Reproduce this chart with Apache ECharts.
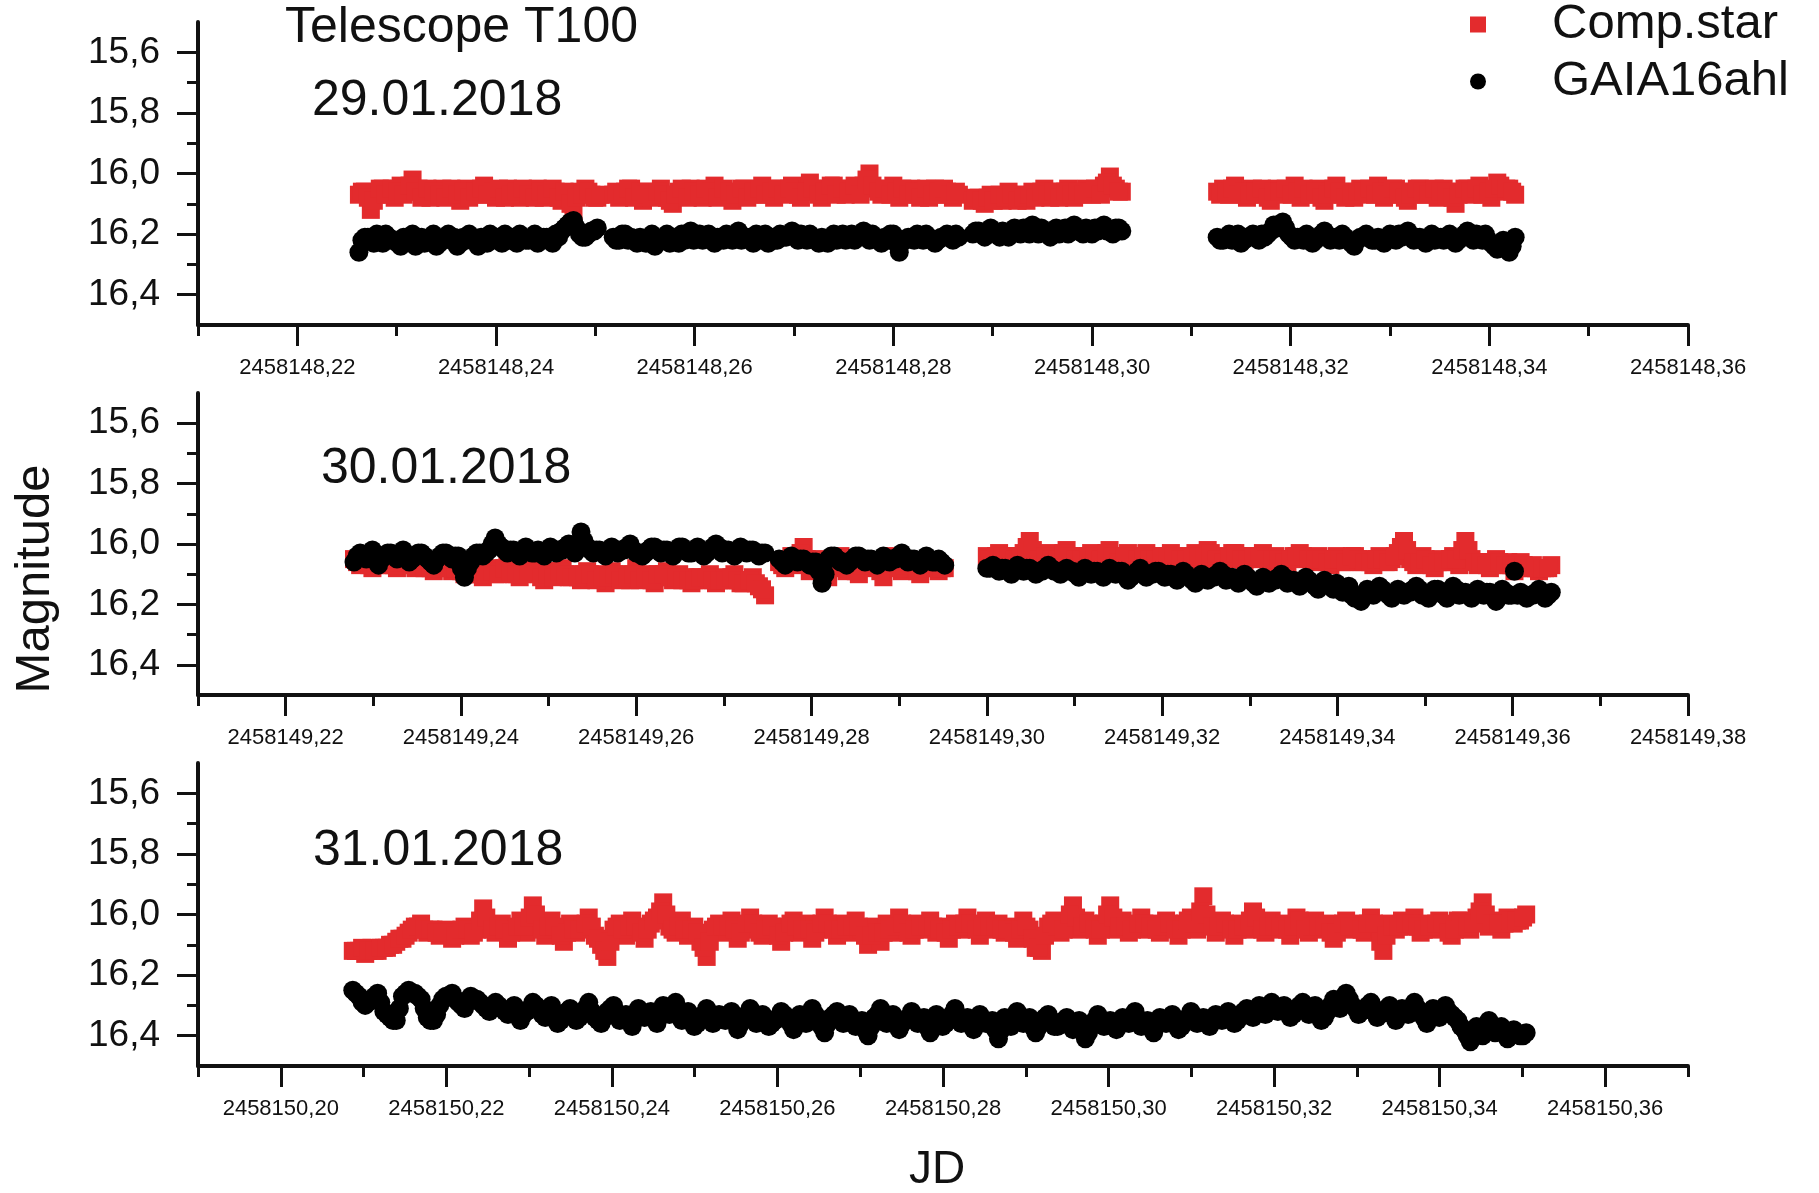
<!DOCTYPE html>
<html><head><meta charset="utf-8">
<script src="https://cdn.jsdelivr.net/npm/echarts@6/dist/echarts.min.js"></script>
<style>html,body{margin:0;padding:0;background:#fff}#c{width:1819px;height:1193px}</style>
</head><body><div id="c"></div>
<script>
// ---------- DATA ----------
const seriesNames = ['Comp.star', 'GAIA16ahl'];
const nightLabels = ['29.01.2018', '30.01.2018', '31.01.2018'];

// observation segments: [start JD, cadence in days]; "...2" arrays are the readings half a cadence later
const p1Segs = [[2458148.2262, 0.0006], [2458148.2518, 0.0006], [2458148.2880, 0.0006], [2458148.3126, 0.0006]];
const p2Segs = [[2458149.2278, 0.0007], [2458149.2763, 0.0007], [2458149.3000, 0.0007]];
const p3Segs = [[2458150.2087, 0.00075]];

// Panel 1 (29.01.2018)
const p1CompA = [16.07,16.06,16.12,16.07,16.05,16.06,16.08,16.04,16.06,16.02,16.05,16.07,16.08,16.06,16.05,16.07,16.06,16.09,16.05,16.07,16.06,16.04,16.07,16.08,16.06,16.05,16.07,16.08,16.06,16.07,16.05,16.08,16.07,16.06,16.09,16.07,16.125,16.06,16.05,16.07,16.08];
const p1CompA2 = [16.06,16.08,16.09,16.05,16.07,16.05,16.06,16.07,16.04,16.06,16.08,16.05,16.06,16.07,16.08,16.05,16.07,16.06,16.08,16.06,16.05,16.07,16.06,16.05,16.08,16.07,16.06,16.05,16.07,16.08,16.06,16.07,16.05,16.08,16.06,16.10,16.08,16.07,16.06,16.08,16.07];
const p1GaiaA = [16.26,16.21,16.22,16.20,16.23,16.21,16.22,16.24,16.21,16.20,16.22,16.23,16.21,16.24,16.22,16.20,16.21,16.23,16.22,16.21,16.24,16.22,16.20,16.21,16.23,16.22,16.21,16.20,16.22,16.21,16.23,16.21,16.22,16.20,16.19,16.17,16.155,16.20,16.21,16.19,16.18];
const p1GaiaA2 = [16.22,16.21,16.23,16.22,16.20,16.22,16.23,16.21,16.22,16.24,16.21,16.22,16.20,16.23,16.21,16.22,16.24,16.21,16.20,16.22,16.21,16.23,16.22,16.21,16.20,16.22,16.23,16.21,16.22,16.20,16.22,16.21,16.23,16.21,16.18,16.16,16.18,16.21,16.20,16.19];
const p1CompB = [16.07,16.08,16.06,16.05,16.07,16.09,16.06,16.07,16.05,16.08,16.10,16.06,16.07,16.05,16.06,16.08,16.07,16.04,16.06,16.07,16.09,16.06,16.05,16.07,16.06,16.04,16.07,16.08,16.05,16.06,16.04,16.07,16.05,16.03,16.06,16.08,16.05,16.04,16.06,16.07,16.05,16.06,16.04,16.00,16.05,16.07,16.06,16.04,16.08,16.06,16.05,16.07,16.06,16.08,16.05,16.07,16.06,16.08,16.07];
const p1CompB2 = [16.06,16.07,16.05,16.08,16.06,16.07,16.08,16.06,16.07,16.09,16.07,16.05,16.08,16.06,16.07,16.05,16.06,16.08,16.05,16.06,16.07,16.05,16.08,16.06,16.05,16.07,16.06,16.05,16.07,16.05,16.06,16.08,16.06,16.05,16.07,16.06,16.04,16.07,16.05,16.06,16.04,16.07,16.02,16.04,16.06,16.05,16.07,16.06,16.05,16.07,16.06,16.08,16.05,16.07,16.06,16.05,16.07,16.06];
const p1GaiaB = [16.21,16.22,16.20,16.21,16.23,16.22,16.21,16.24,16.22,16.20,16.21,16.23,16.22,16.19,16.21,16.22,16.20,16.23,16.21,16.20,16.22,16.19,16.21,16.22,16.20,16.21,16.23,16.22,16.20,16.21,16.19,16.22,16.21,16.20,16.22,16.21,16.23,16.20,16.21,16.22,16.20,16.21,16.19,16.22,16.21,16.23,16.22,16.20,16.26,16.22,16.21,16.20,16.22,16.21,16.23,16.21,16.20,16.22,16.21];
const p1GaiaB2 = [16.22,16.20,16.22,16.22,16.21,16.23,16.20,16.22,16.21,16.23,16.22,16.20,16.21,16.22,16.20,16.21,16.22,16.21,16.22,16.21,16.20,16.22,16.21,16.23,16.22,16.20,16.21,16.22,16.21,16.20,16.21,16.20,16.22,16.21,16.23,16.22,16.21,16.22,16.20,16.21,16.22,16.20,16.21,16.20,16.22,16.21,16.20,16.23,16.22,16.21,16.22,16.21,16.20,16.22,16.22,16.21,16.21,16.20];
const p1CompC = [16.09,16.08,16.10,16.07,16.08,16.09,16.06,16.08,16.07,16.09,16.06,16.07,16.05,16.08,16.06,16.07,16.05,16.08,16.06,16.05,16.07,16.06,16.04,16.01,16.05,16.06];
const p1CompC2 = [16.08,16.09,16.08,16.09,16.07,16.08,16.07,16.09,16.08,16.07,16.08,16.06,16.07,16.06,16.08,16.06,16.07,16.06,16.07,16.06,16.05,16.07,16.03,16.04,16.06];
const p1GaiaC = [16.20,16.19,16.21,16.18,16.20,16.19,16.21,16.18,16.20,16.19,16.17,16.20,16.19,16.21,16.18,16.19,16.20,16.17,16.19,16.18,16.20,16.19,16.17,16.19,16.18,16.19];
const p1GaiaC2 = [16.19,16.20,16.19,16.19,16.21,16.20,16.19,16.19,16.18,16.20,16.19,16.18,16.20,16.19,16.20,16.18,16.18,16.19,16.20,16.19,16.18,16.18,16.19,16.20,16.18];
const p1CompD = [16.06,16.05,16.07,16.04,16.06,16.08,16.05,16.07,16.06,16.09,16.05,16.07,16.06,16.04,16.08,16.06,16.07,16.05,16.09,16.06,16.04,16.07,16.06,16.08,16.05,16.07,16.06,16.04,16.08,16.06,16.05,16.07,16.09,16.06,16.05,16.07,16.06,16.08,16.05,16.07,16.10,16.06,16.05,16.07,16.04,16.06,16.08,16.03,16.06,16.05,16.07];
const p1CompD2 = [16.07,16.06,16.05,16.07,16.06,16.07,16.06,16.05,16.08,16.06,16.06,16.05,16.07,16.06,16.05,16.07,16.06,16.08,16.07,16.05,16.06,16.08,16.07,16.06,16.06,16.05,16.07,16.06,16.07,16.05,16.06,16.08,16.07,16.05,16.06,16.07,16.05,16.06,16.06,16.08,16.07,16.05,16.06,16.05,16.07,16.06,16.05,16.04,16.05,16.06];
const p1GaiaD = [16.21,16.22,16.20,16.21,16.23,16.21,16.20,16.22,16.21,16.19,16.18,16.16,16.20,16.22,16.21,16.20,16.23,16.21,16.19,16.22,16.21,16.20,16.22,16.24,16.21,16.20,16.22,16.21,16.23,16.20,16.22,16.21,16.19,16.22,16.21,16.23,16.20,16.21,16.22,16.20,16.23,16.21,16.19,16.22,16.21,16.20,16.23,16.25,16.22,16.26,16.21];
const p1GaiaD2 = [16.22,16.21,16.22,16.20,16.22,16.21,16.21,16.20,16.20,16.17,16.17,16.18,16.21,16.21,16.22,16.21,16.22,16.20,16.21,16.21,16.22,16.21,16.23,16.22,16.21,16.21,16.22,16.22,16.21,16.21,16.20,16.20,16.21,16.21,16.22,16.21,16.22,16.21,16.21,16.22,16.22,16.20,16.21,16.20,16.22,16.22,16.24,16.24,16.23,16.24];

// Panel 2 (30.01.2018)
const p2CompA = [16.05,16.07,16.06,16.08,16.05,16.07,16.06,16.08,16.07,16.05,16.08,16.06,16.07,16.09,16.06,16.08,16.09,16.07,16.10,16.08,16.09,16.11,16.08,16.10,16.09,16.07,16.10,16.11,16.09,16.08,16.10,16.12,16.09,16.10,16.08,16.11,16.10,16.12,16.09,16.11,16.10,16.13,16.09,16.11,16.10,16.12,16.08,16.11,16.10,16.13,16.11,16.09,16.12,16.10,16.11,16.13,16.11,16.12,16.10,16.13,16.11,16.12,16.10,16.13,16.12,16.11,16.14,16.17];
const p2CompA2 = [16.06,16.06,16.07,16.06,16.06,16.07,16.07,16.06,16.06,16.07,16.07,16.08,16.08,16.07,16.07,16.08,16.08,16.09,16.09,16.10,16.10,16.09,16.09,16.10,16.08,16.09,16.10,16.10,16.09,16.09,16.11,16.10,16.11,16.09,16.10,16.11,16.11,16.10,16.10,16.12,16.11,16.11,16.10,16.12,16.11,16.10,16.12,16.11,16.12,16.10,16.10,16.11,16.11,16.12,16.12,16.12,16.11,16.11,16.12,16.12,16.12,16.11,16.12,16.13,16.12,16.13,16.15];
const p2GaiaA = [16.06,16.03,16.05,16.02,16.07,16.04,16.03,16.05,16.02,16.06,16.04,16.03,16.05,16.07,16.04,16.03,16.05,16.04,16.11,16.06,16.03,16.04,16.02,15.98,16.01,16.03,16.02,16.04,16.01,16.03,16.02,16.04,16.01,16.03,16.02,16.00,16.03,15.96,16.01,16.03,16.02,16.04,16.01,16.03,16.02,16.00,16.03,16.04,16.02,16.01,16.03,16.02,16.04,16.01,16.02,16.03,16.01,16.04,16.02,16.00,16.03,16.02,16.04,16.01,16.03,16.02,16.04,16.03];
const p2GaiaA2 = [16.04,16.04,16.03,16.05,16.05,16.03,16.04,16.03,16.04,16.05,16.03,16.04,16.06,16.05,16.03,16.04,16.04,16.08,16.08,16.04,16.03,16.03,16.00,16.00,16.02,16.02,16.03,16.02,16.02,16.03,16.03,16.02,16.02,16.02,16.01,16.02,16.00,15.99,16.02,16.02,16.03,16.02,16.02,16.02,16.01,16.02,16.03,16.03,16.01,16.02,16.02,16.03,16.02,16.01,16.03,16.02,16.02,16.03,16.01,16.01,16.02,16.03,16.02,16.02,16.02,16.03,16.03];
const p2CompB = [16.06,16.08,16.04,16.07,16.01,16.09,16.05,16.08,16.11,16.06,16.04,16.09,16.07,16.10,16.05,16.08,16.06,16.11,16.04,16.07,16.09,16.05,16.08,16.10,16.06,16.07,16.09,16.08];
const p2CompB2 = [16.07,16.06,16.05,16.03,16.05,16.07,16.06,16.10,16.08,16.05,16.07,16.08,16.09,16.07,16.06,16.07,16.09,16.07,16.05,16.08,16.07,16.06,16.09,16.08,16.06,16.08,16.08];
const p2GaiaB = [16.05,16.07,16.04,16.06,16.05,16.07,16.06,16.13,16.05,16.04,16.06,16.07,16.05,16.04,16.06,16.05,16.07,16.04,16.06,16.05,16.03,16.06,16.05,16.07,16.04,16.06,16.05,16.07];
const p2GaiaB2 = [16.06,16.05,16.05,16.05,16.06,16.06,16.09,16.10,16.04,16.05,16.06,16.06,16.04,16.05,16.05,16.06,16.05,16.05,16.05,16.04,16.05,16.05,16.06,16.05,16.05,16.06,16.06];
const p2CompC = [16.04,16.05,16.03,16.05,16.04,16.06,16.03,15.99,16.04,16.05,16.03,16.06,16.04,16.02,16.05,16.04,16.06,16.03,16.05,16.04,16.02,16.05,16.06,16.03,16.04,16.05,16.03,16.06,16.04,16.05,
  16.03,16.05,16.04,16.06,16.03,16.05,16.02,16.04,16.06,16.05,16.03,16.04,16.06,16.04,16.05,16.03,16.06,16.04,16.05,16.07,16.04,16.03,16.05,16.06,16.04,16.05,16.07,16.04,16.06,16.05,
  16.04,16.06,16.05,16.07,16.04,16.06,16.05,16.03,15.99,16.05,16.07,16.04,16.06,16.08,16.05,16.06,16.04,16.07,15.99,16.05,16.07,16.06,16.08,16.05,16.07,16.06,16.09,16.06,16.08,16.07,16.09,16.08,16.07];
const p2CompC2 = [16.05,16.04,16.04,16.04,16.05,16.04,16.01,16.02,16.05,16.04,16.05,16.05,16.03,16.04,16.05,16.05,16.04,16.04,16.05,16.03,16.04,16.06,16.04,16.04,16.05,16.04,16.05,16.05,16.04,16.04,
  16.04,16.05,16.05,16.04,16.04,16.04,16.03,16.05,16.06,16.04,16.03,16.05,16.05,16.04,16.04,16.05,16.05,16.05,16.06,16.05,16.04,16.04,16.05,16.05,16.05,16.06,16.05,16.05,16.06,16.04,
  16.05,16.06,16.06,16.05,16.05,16.06,16.04,16.01,16.02,16.06,16.06,16.05,16.07,16.06,16.06,16.05,16.05,16.02,16.02,16.06,16.06,16.07,16.06,16.06,16.07,16.07,16.07,16.07,16.08,16.08,16.08,16.08];
const p2GaiaC = [16.08,16.07,16.09,16.08,16.10,16.07,16.09,16.08,16.10,16.09,16.07,16.09,16.10,16.08,16.09,16.11,16.08,16.10,16.09,16.11,16.08,16.10,16.09,16.12,16.10,16.08,16.11,16.10,16.09,16.11,
  16.10,16.12,16.09,16.11,16.13,16.10,16.12,16.11,16.09,16.12,16.11,16.13,16.10,16.12,16.14,16.11,16.13,16.12,16.10,16.13,16.12,16.14,16.11,16.13,16.15,16.12,16.14,16.13,16.16,16.14,
  16.18,16.19,16.15,16.17,16.14,16.16,16.18,16.15,16.17,16.16,16.14,16.17,16.18,16.15,16.16,16.18,16.14,16.17,16.16,16.18,16.15,16.17,16.16,16.19,16.15,16.17,16.09,16.16,16.18,16.17,16.15,16.18,16.16];
const p2GaiaC2 = [16.08,16.08,16.08,16.09,16.08,16.08,16.08,16.09,16.09,16.08,16.08,16.09,16.09,16.09,16.10,16.09,16.09,16.09,16.10,16.09,16.09,16.09,16.10,16.11,16.09,16.10,16.10,16.09,16.10,16.10,
  16.11,16.10,16.10,16.12,16.11,16.11,16.11,16.10,16.10,16.11,16.12,16.11,16.11,16.13,16.12,16.12,16.12,16.11,16.11,16.12,16.13,16.12,16.12,16.14,16.13,16.13,16.15,16.14,16.15,16.17,
  16.18,16.17,16.16,16.15,16.15,16.17,16.16,16.16,16.16,16.15,16.15,16.17,16.16,16.15,16.17,16.16,16.15,16.16,16.17,16.16,16.16,16.16,16.17,16.17,16.16,16.17,16.17,16.17,16.17,16.16,16.16,16.17];

// Panel 3 (31.01.2018)
const p3Comp = [16.12,16.12,16.13,16.11,16.12,16.11,16.10,16.09,16.08,16.06,
  16.04,16.03,16.06,16.05,16.07,16.05,16.08,16.06,16.04,16.07,
  16.05,15.98,16.04,16.06,16.03,16.08,16.05,16.02,16.06,15.97,
  16.04,16.07,16.02,16.05,16.09,16.03,16.06,16.04,16.01,16.07,
  16.10,16.14,16.05,16.03,16.07,16.02,16.05,16.08,16.03,16.01,
  15.96,16.04,16.06,16.02,16.07,16.04,16.09,16.14,16.05,16.03,
  16.06,16.02,16.08,16.04,16.01,16.05,16.07,16.03,16.06,16.09,
  16.04,16.02,16.06,16.03,16.08,16.05,16.01,16.04,16.07,16.03,
  16.06,16.02,16.05,16.10,16.04,16.09,16.03,16.06,16.01,16.05,
  16.07,16.03,16.05,16.02,16.06,16.04,16.08,16.03,16.05,16.01,
  16.04,16.07,16.02,16.05,16.03,16.06,16.04,16.08,16.02,16.05,
  16.11,16.12,16.04,16.02,16.06,16.03,15.97,16.05,16.02,16.04,
  16.07,16.03,15.97,16.05,16.02,16.06,16.04,16.01,16.05,16.03,
  16.06,16.02,16.04,16.07,16.03,16.01,16.05,15.94,16.03,16.06,
  16.02,16.04,16.07,16.03,16.05,15.99,16.04,16.06,16.02,16.05,
  16.03,16.07,16.01,16.04,16.06,16.02,16.05,16.03,16.08,16.04,
  16.02,16.05,16.03,16.06,16.01,16.04,16.12,16.03,16.05,16.02,
  16.04,16.01,16.06,16.03,16.05,16.02,16.04,16.07,16.02,16.03,
  16.05,16.01,15.96,16.04,16.02,16.05,16.01,16.03,16.02,16.00];
const p3Comp2 = [16.12,16.11,16.12,16.12,16.11,16.11,16.10,16.08,16.07,16.05,
  16.04,16.05,16.05,16.06,16.06,16.06,16.07,16.05,16.05,16.06,
  16.02,16.01,16.05,16.04,16.05,16.06,16.04,16.04,16.01,16.00,
  16.05,16.04,16.04,16.07,16.06,16.05,16.05,16.03,16.04,16.08,
  16.12,16.09,16.04,16.05,16.04,16.04,16.06,16.05,16.02,15.99,
  16.00,16.05,16.04,16.05,16.05,16.06,16.11,16.09,16.04,16.04,
  16.04,16.05,16.06,16.03,16.03,16.06,16.05,16.04,16.07,16.06,
  16.03,16.04,16.05,16.05,16.06,16.03,16.03,16.05,16.05,16.04,
  16.04,16.04,16.07,16.07,16.06,16.06,16.05,16.04,16.03,16.06,
  16.05,16.04,16.04,16.04,16.05,16.06,16.05,16.04,16.03,16.03,
  16.05,16.04,16.04,16.04,16.05,16.05,16.06,16.05,16.04,16.08,
  16.11,16.07,16.03,16.04,16.05,16.00,16.01,16.04,16.03,16.05,
  16.05,16.00,16.01,16.04,16.04,16.05,16.03,16.03,16.04,16.05,
  16.04,16.03,16.05,16.05,16.02,16.03,15.99,16.00,16.04,16.04,
  16.03,16.05,16.05,16.04,16.02,16.01,16.05,16.04,16.04,16.04,
  16.05,16.04,16.02,16.05,16.04,16.04,16.04,16.06,16.06,16.03,
  16.04,16.04,16.05,16.03,16.03,16.09,16.07,16.04,16.04,16.03,
  16.03,16.04,16.05,16.04,16.03,16.03,16.06,16.05,16.02,16.04,
  16.03,15.99,16.00,16.03,16.03,16.03,16.02,16.02,16.01];
const p3Gaia = [16.25,16.27,16.30,16.28,16.26,16.32,16.34,16.35,16.27,16.25,
  16.26,16.28,16.34,16.35,16.30,16.27,16.26,16.29,16.31,16.27,
  16.28,16.30,16.32,16.29,16.31,16.33,16.30,16.35,16.32,16.29,
  16.31,16.34,16.30,16.36,16.33,16.31,16.35,16.32,16.29,16.34,
  16.36,16.32,16.30,16.35,16.33,16.37,16.31,16.34,16.32,16.36,
  16.30,16.33,16.29,16.35,16.32,16.37,16.34,16.31,16.36,16.33,
  16.35,16.32,16.38,16.34,16.31,16.36,16.33,16.37,16.35,16.32,
  16.34,16.38,16.33,16.36,16.31,16.35,16.39,16.34,16.32,16.36,
  16.33,16.37,16.35,16.40,16.34,16.31,16.36,16.33,16.38,16.35,
  16.32,16.36,16.34,16.39,16.33,16.37,16.35,16.31,16.36,16.34,
  16.38,16.33,16.36,16.35,16.41,16.34,16.37,16.32,16.36,16.34,
  16.39,16.35,16.33,16.37,16.36,16.34,16.38,16.35,16.41,16.36,
  16.33,16.37,16.35,16.38,16.34,16.36,16.32,16.37,16.35,16.39,
  16.34,16.36,16.33,16.38,16.35,16.32,16.36,16.34,16.37,16.33,
  16.35,16.32,16.36,16.33,16.31,16.34,16.30,16.33,16.29,16.32,
  16.30,16.34,16.31,16.29,16.33,16.30,16.35,16.32,16.28,16.31,
  16.26,16.30,16.33,16.31,16.29,16.34,16.32,16.30,16.35,16.31,
  16.33,16.29,16.32,16.36,16.31,16.34,16.30,16.33,16.35,16.38,
  16.42,16.37,16.40,16.35,16.39,16.37,16.41,16.38,16.40,16.39];
const p3Gaia2 = [16.26,16.29,16.29,16.27,16.29,16.33,16.35,16.31,16.26,16.26,
  16.27,16.31,16.35,16.33,16.28,16.27,16.28,16.30,16.29,16.28,
  16.29,16.31,16.31,16.30,16.32,16.32,16.33,16.33,16.31,16.30,
  16.33,16.32,16.33,16.35,16.32,16.33,16.34,16.31,16.32,16.35,
  16.34,16.31,16.33,16.34,16.35,16.34,16.33,16.33,16.34,16.33,
  16.32,16.31,16.32,16.33,16.35,16.36,16.33,16.34,16.35,16.34,
  16.33,16.35,16.36,16.33,16.34,16.35,16.35,16.36,16.34,16.33,
  16.36,16.35,16.35,16.34,16.33,16.37,16.36,16.33,16.34,16.35,
  16.35,16.36,16.38,16.37,16.33,16.34,16.35,16.36,16.36,16.34,
  16.34,16.35,16.37,16.36,16.35,16.36,16.33,16.34,16.35,16.36,
  16.35,16.35,16.36,16.38,16.38,16.36,16.35,16.34,16.35,16.37,
  16.37,16.34,16.35,16.37,16.35,16.36,16.37,16.38,16.39,16.35,
  16.35,16.36,16.37,16.36,16.35,16.34,16.35,16.36,16.37,16.36,
  16.35,16.35,16.36,16.37,16.34,16.34,16.35,16.36,16.35,16.34,
  16.34,16.34,16.35,16.32,16.33,16.32,16.32,16.31,16.31,16.31,
  16.32,16.33,16.30,16.31,16.32,16.33,16.34,16.30,16.30,16.28,
  16.28,16.31,16.32,16.30,16.32,16.33,16.31,16.33,16.33,16.32,
  16.31,16.31,16.34,16.33,16.33,16.32,16.32,16.34,16.37,16.40,
  16.40,16.39,16.38,16.37,16.38,16.39,16.40,16.39,16.40];

// Axes: ranges and tick values
const xRanges = [[2458148.21, 2458148.36], [2458149.21, 2458149.38], [2458150.19, 2458150.37]];
const xMajor = [
  [2458148.22,2458148.24,2458148.26,2458148.28,2458148.30,2458148.32,2458148.34,2458148.36],
  [2458149.22,2458149.24,2458149.26,2458149.28,2458149.30,2458149.32,2458149.34,2458149.36,2458149.38],
  [2458150.20,2458150.22,2458150.24,2458150.26,2458150.28,2458150.30,2458150.32,2458150.34,2458150.36]];
const xMinor = [
  [2458148.21,2458148.23,2458148.25,2458148.27,2458148.29,2458148.31,2458148.33,2458148.35],
  [2458149.21,2458149.23,2458149.25,2458149.27,2458149.29,2458149.31,2458149.33,2458149.35,2458149.37],
  [2458150.19,2458150.21,2458150.23,2458150.25,2458150.27,2458150.29,2458150.31,2458150.33,2458150.35,2458150.37]];
const yRange = [15.5, 16.5];
const yMajor = [15.6, 15.8, 16.0, 16.2, 16.4];
const yMinor = [15.7, 15.9, 16.1, 16.3];

// ---------- CHART ----------
function pts(segs, lists, lists2) {
  const out = [];
  segs.forEach((s, k) => {
    lists[k].forEach((v, i) => out.push([s[0] + i * s[1], v]));
    lists2[k].forEach((v, i) => out.push([s[0] + (i + 0.5) * s[1], v]));
  });
  return out;
}
const compData = [
  pts(p1Segs, [p1CompA, p1CompB, p1CompC, p1CompD], [p1CompA2, p1CompB2, p1CompC2, p1CompD2]),
  pts(p2Segs, [p2CompA, p2CompB, p2CompC], [p2CompA2, p2CompB2, p2CompC2]),
  pts(p3Segs, [p3Comp], [p3Comp2])];
const gaiaData = [
  pts(p1Segs, [p1GaiaA, p1GaiaB, p1GaiaC, p1GaiaD], [p1GaiaA2, p1GaiaB2, p1GaiaC2, p1GaiaD2]),
  pts(p2Segs, [p2GaiaA, p2GaiaB, p2GaiaC], [p2GaiaA2, p2GaiaB2, p2GaiaC2]),
  pts(p3Segs, [p3Gaia], [p3Gaia2])];

const FONT = '"Liberation Sans", Arial, sans-serif';
const INK = '#111';
const RED = '#e32b2d';
const gridBoxes = [
  {left: 198, top: 22, width: 1490, height: 303},
  {left: 198, top: 393, width: 1490, height: 302},
  {left: 198, top: 763, width: 1490, height: 303}];

const grid = [], xAxis = [], yAxis = [], series = [];
gridBoxes.forEach((b, g) => {
  grid.push(Object.assign({containLabel: false, outerBoundsMode: 'none'}, b));
  const xr = xRanges[g];
  xAxis.push({
    type: 'value', gridIndex: g, position: 'bottom', min: xr[0], max: xr[1], scale: true,
    axisLine: {show: true, onZero: false, lineStyle: {color: INK, width: 4}},
    axisTick: {show: true, inside: false, length: 11, lineStyle: {color: INK, width: 3}, customValues: xMinor[g]},
    axisLabel: {show: true, customValues: xMajor[g], margin: 32, color: INK, fontSize: 22, fontFamily: FONT,
      formatter: v => v.toFixed(2).replace('.', ',')},
    splitLine: {show: false}
  });
  xAxis.push({
    type: 'value', gridIndex: g, position: 'bottom', min: xr[0], max: xr[1], scale: true,
    axisLine: {show: false, onZero: false},
    axisTick: {show: true, length: 21, lineStyle: {color: INK, width: 3}, customValues: xMajor[g]},
    axisLabel: {show: false}, splitLine: {show: false}
  });
  yAxis.push({
    type: 'value', gridIndex: g, position: 'left', inverse: true, min: yRange[0], max: yRange[1],
    axisLine: {show: true, onZero: false, lineStyle: {color: INK, width: 4}},
    axisTick: {show: true, length: 11, lineStyle: {color: INK, width: 3}, customValues: yMinor},
    axisLabel: {show: true, customValues: yMajor, margin: 38, color: INK, fontSize: 37, fontFamily: FONT,
      formatter: v => v.toFixed(1).replace('.', ',')},
    splitLine: {show: false}
  });
  yAxis.push({
    type: 'value', gridIndex: g, position: 'left', inverse: true, min: yRange[0], max: yRange[1],
    axisLine: {show: false, onZero: false},
    axisTick: {show: true, length: 21, lineStyle: {color: INK, width: 3}, customValues: yMajor},
    axisLabel: {show: false}, splitLine: {show: false}
  });
  series.push({
    type: 'scatter', name: seriesNames[0], xAxisIndex: 2 * g, yAxisIndex: 2 * g,
    symbol: 'rect', symbolSize: 18, itemStyle: {color: RED, opacity: 1}, data: compData[g], z: 2
  });
  series.push({
    type: 'scatter', name: seriesNames[1], xAxisIndex: 2 * g, yAxisIndex: 2 * g,
    symbol: 'circle', symbolSize: 19, itemStyle: {color: '#000', opacity: 1}, data: gaiaData[g], z: 3
  });
});

function txt(text, x, y, size, align, rot) {
  return {type: 'text', x: x, y: y, rotation: rot || 0, z: 10,
    style: {text: text, fill: INK, font: size + 'px ' + FONT, fontSize: size, fontFamily: FONT,
      align: align || 'left', verticalAlign: 'middle', textAlign: align || 'left', textVerticalAlign: 'middle'}};
}

const chart = echarts.init(document.getElementById('c'), null, {renderer: 'canvas'});
chart.setOption({
  animation: false,
  backgroundColor: '#fff',
  grid: grid, xAxis: xAxis, yAxis: yAxis, series: series,
  legend: {
    orient: 'vertical', left: 1470, top: 0, padding: 0, itemWidth: 16, itemHeight: 16, itemGap: 8,
    selectedMode: false,
    data: [{name: seriesNames[0], icon: 'rect'}, {name: seriesNames[1], icon: 'circle'}],
    textStyle: {fontSize: 49, fontFamily: FONT, color: INK, lineHeight: 49, padding: [0, 0, 0, 61]}
  },
  graphic: [
    txt('Telescope T100', 285, 28, 50),
    txt(nightLabels[0], 312, 101, 50),
    txt(nightLabels[1], 321, 469, 50),
    txt(nightLabels[2], 313, 851, 50),
    txt('Magnitude', 35, 579, 49, 'center', Math.PI / 2),
    txt('JD', 937, 1170, 46, 'center')
  ]
});
</script></body></html>
